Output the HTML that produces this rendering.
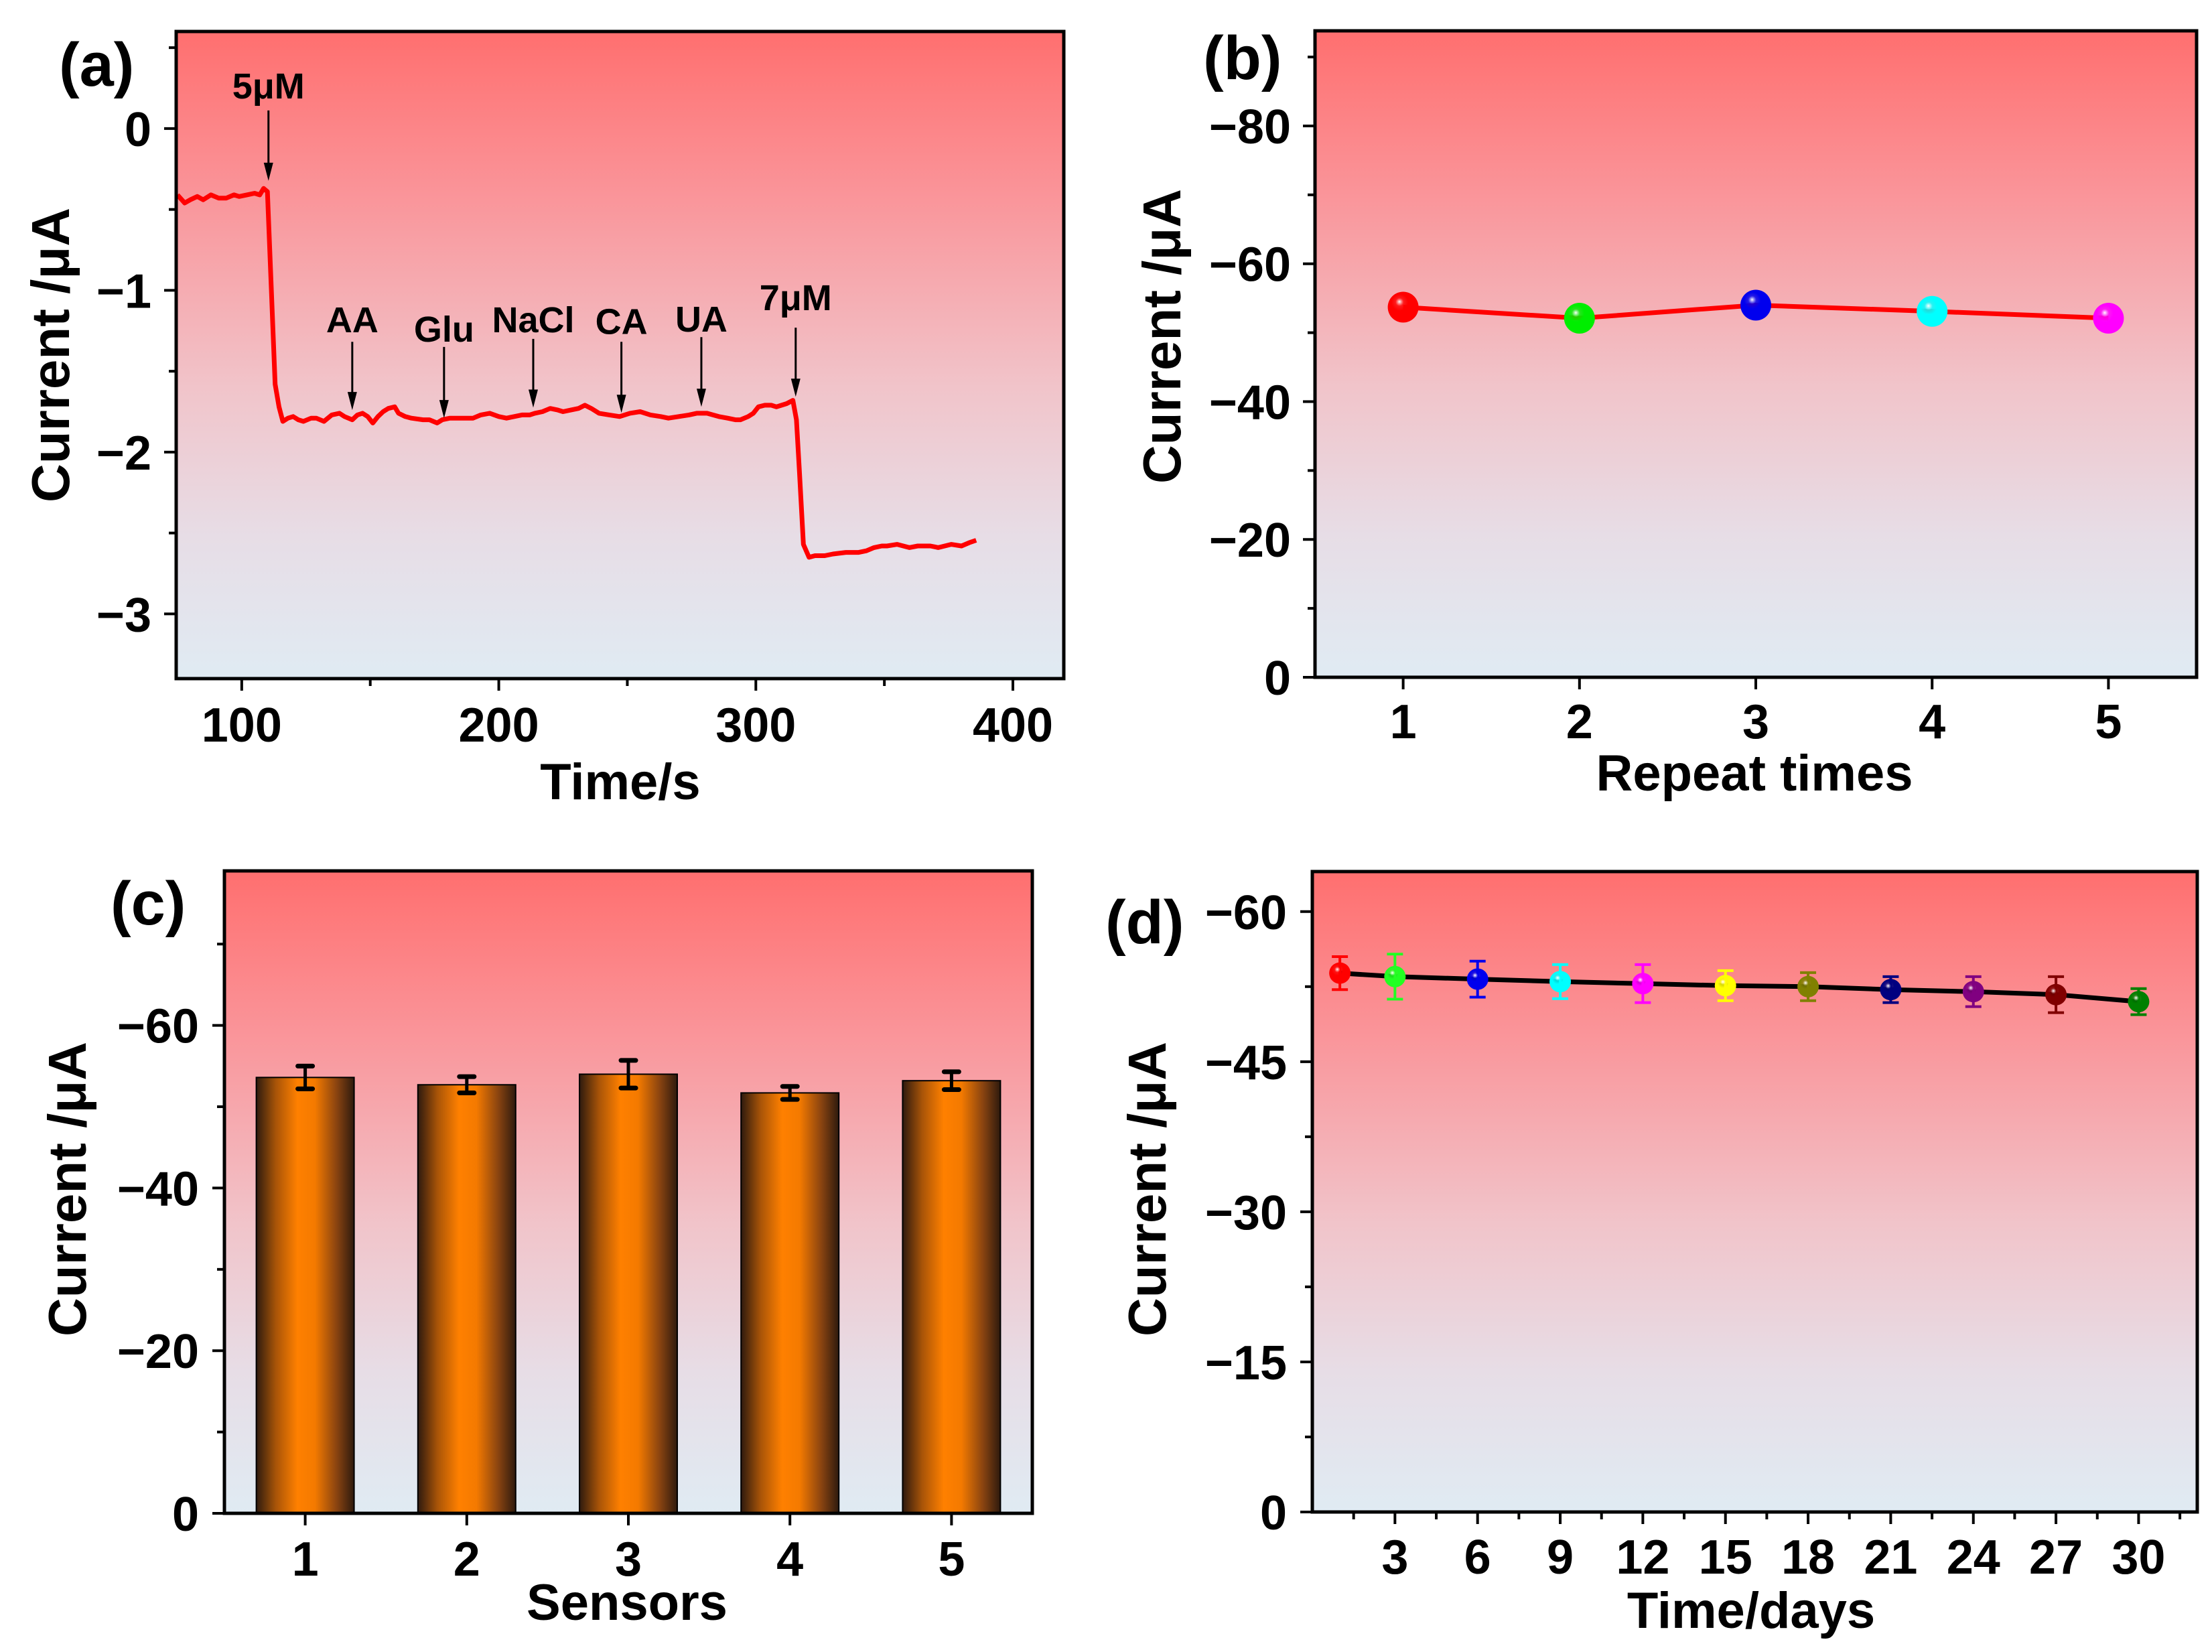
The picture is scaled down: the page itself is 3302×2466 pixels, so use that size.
<!DOCTYPE html>
<html><head><meta charset="utf-8"><style>
html,body{margin:0;padding:0;background:#fff}
svg{display:block}
text{font-family:"Liberation Sans",Arial,sans-serif;font-weight:bold;fill:#000}
</style></head><body>
<svg id="fig" xmlns="http://www.w3.org/2000/svg" width="3302" height="2466" viewBox="0 0 3302 2466">
<defs>
<linearGradient id="bg" x1="0" y1="0" x2="0" y2="1">
<stop offset="0" stop-color="#ff6f6f"/><stop offset="0.25" stop-color="#fa9499"/><stop offset="0.55" stop-color="#f1c4ca"/><stop offset="0.78" stop-color="#e7dde6"/><stop offset="1" stop-color="#e0ebf3"/>
</linearGradient>
<linearGradient id="barg" x1="0" y1="0" x2="1" y2="0">
<stop offset="0" stop-color="#2e1a0e"/><stop offset="0.2" stop-color="#a85408"/><stop offset="0.42" stop-color="#ff8000"/><stop offset="0.6" stop-color="#f47a00"/><stop offset="0.82" stop-color="#8a4410"/><stop offset="1" stop-color="#2e1a0e"/>
</linearGradient>
</defs>
</svg>
<script>
// ---------- data ----------
// (a) amperometric trace
const traceT = [75,77.8,80,82.7,85,88,91,94,97,99,102,105,107,108.5,110,111.5,113,114.5,116,118,120,122,124,127,129,132,135,138,140,143,145,147,149,151,153,155,157,159.5,161,163.6,166,170.5,173,176,178,181,185,190,193,196.5,200,203,206,209,212,214,217,220,223,225,228,231,233.5,236,239,243,247,251,255,259,263,266,270,274,277,281,285.6,289,292,294,297,299,301,303.5,306,308,310,312,314.4,315.8,317,318.5,320.7,323,326.8,330,335,340,343,346,349,351,355,359.7,363,367.9,371,376,380,383,385.7];
const traceI = [-0.41,-0.46,-0.44,-0.42,-0.44,-0.41,-0.43,-0.43,-0.41,-0.42,-0.41,-0.40,-0.41,-0.37,-0.39,-0.99,-1.58,-1.72,-1.81,-1.79,-1.78,-1.80,-1.81,-1.79,-1.79,-1.81,-1.77,-1.76,-1.78,-1.80,-1.77,-1.76,-1.78,-1.82,-1.78,-1.75,-1.73,-1.72,-1.76,-1.78,-1.79,-1.80,-1.80,-1.82,-1.80,-1.79,-1.79,-1.79,-1.77,-1.76,-1.78,-1.79,-1.78,-1.77,-1.77,-1.76,-1.75,-1.73,-1.74,-1.75,-1.74,-1.73,-1.71,-1.73,-1.76,-1.77,-1.78,-1.76,-1.75,-1.77,-1.78,-1.79,-1.78,-1.77,-1.76,-1.76,-1.78,-1.79,-1.80,-1.80,-1.78,-1.76,-1.72,-1.71,-1.71,-1.72,-1.71,-1.70,-1.68,-1.80,-2.13,-2.57,-2.65,-2.64,-2.64,-2.63,-2.62,-2.62,-2.61,-2.59,-2.58,-2.58,-2.57,-2.59,-2.58,-2.58,-2.59,-2.57,-2.58,-2.56,-2.545];
const annoLabels = ["5μM","AA","Glu","NaCl","CA","UA","7μM"];
const annoT = [110.4,143,178.7,213.4,247.7,278.8,315.5];
const annoLabelI = [0.186,-1.26,-1.318,-1.26,-1.27,-1.256,-1.123];
const annoStartI = [0.112,-1.318,-1.35,-1.30,-1.318,-1.289,-1.231];
const annoTipI = [-0.323,-1.74,-1.79,-1.725,-1.757,-1.72,-1.658];
const aXTicks = [100,200,300,400];
const aYTicks = [0,-1,-2,-3];
// (b) repeatability
const repeatX = [1,2,3,4,5];
const repeatI = [-53.7,-52.1,-54.0,-53.1,-52.1];
const repeatColors = ["#ff0000","#00ee00","#0000ee","#00ffff","#ff00ff"];
const bYTicks = [-80,-60,-40,-20,0];
// (c) sensors
const sensorX = [1,2,3,4,5];
const sensorI = [-53.6,-52.7,-54.0,-51.7,-53.2];
const sensorErr = [1.4,1.0,1.7,0.8,1.1];
const cYTicks = [-60,-40,-20,0];
// (d) stability
const dayX = [1,3,6,9,12,15,18,21,24,27,30];
const dayI = [-53.85,-53.5,-53.25,-53.0,-52.8,-52.6,-52.5,-52.2,-52.0,-51.7,-51.0];
const dayErr = [1.65,2.25,1.8,1.7,1.9,1.5,1.4,1.3,1.5,1.8,1.3];
const dayColors = ["#ff0000","#22ff22","#0000ee","#00ffff","#ff00ff","#ffff00","#808000","#000080","#800080","#800000","#008000"];
const dXTicks = [3,6,9,12,15,18,21,24,27,30];
const dYTicks = [-60,-45,-30,-15,0];

// ---------- helpers ----------
const NS = "http://www.w3.org/2000/svg";
const svg = document.getElementById("fig");
const defs = svg.querySelector("defs");
function mk(tag, attrs, parent){
  const e = document.createElementNS(NS, tag);
  for (const k in attrs) e.setAttribute(k, attrs[k]);
  (parent||svg).appendChild(e);
  return e;
}
function fmt(v){ return v<0 ? "\u2212"+Math.abs(v) : String(v); }
let gradN = 0;
function sphereGrad(color){
  const id = "sg"+(gradN++);
  const g = mk("radialGradient",{id:id,cx:"0.4",cy:"0.38",r:"0.6",fx:"0.38",fy:"0.32"},defs);
  mk("stop",{offset:"0","stop-color":"#ffffff"},g);
  mk("stop",{offset:"0.22","stop-color":color,"stop-opacity":"0.85"},g);
  mk("stop",{offset:"0.45","stop-color":color},g);
  mk("stop",{offset:"1","stop-color":color},g);
  return id;
}
function makePanel(p){
  const sx = v => p.x0 + (v - p.xmin)/(p.xmax - p.xmin)*(p.x1 - p.x0);
  const sy = v => p.y1 - (v - p.ybot)/(p.ytop - p.ybot)*(p.y1 - p.y0);
  const g = mk("g",{});
  
  
  const bg = mk("rect",{x:p.x0,y:p.y0,width:p.x1-p.x0,height:p.y1-p.y0,fill:"url(#bg)"},g);
  
  
  return {g, sx, sy, p};
}
function drawAxes(P, xticks, xminor, yticks, yminor, xfmt){
  const {g,sx,sy,p} = P;
  const ax = mk("g",{stroke:"#000","stroke-width":4},g);
  
  
  xticks.forEach(v=>{ mk("line",{x1:sx(v),x2:sx(v),y1:p.y1,y2:p.y1+18},ax); });
  xminor.forEach(v=>{ mk("line",{x1:sx(v),x2:sx(v),y1:p.y1,y2:p.y1+11},ax); });
  yticks.forEach(v=>{ mk("line",{x1:p.x0-18,x2:p.x0,y1:sy(v),y2:sy(v)},ax); });
  yminor.forEach(v=>{ mk("line",{x1:p.x0-11,x2:p.x0,y1:sy(v),y2:sy(v)},ax); });
  const fr = mk("rect",{x:p.x0,y:p.y0,width:p.x1-p.x0,height:p.y1-p.y0,fill:"none",stroke:"#000","stroke-width":5},g);
  
  
  const xl = mk("g",{"font-size":72,"text-anchor":"middle"},g);
  
  
  xticks.forEach(v=>{ const t=mk("text",{x:sx(v),y:p.xLabelY},xl); t.textContent = xfmt?xfmt(v):fmt(v); });
  const yl = mk("g",{"font-size":72,"text-anchor":"end"},g);
  
  
  yticks.forEach(v=>{ const t=mk("text",{x:p.yLabelX,y:sy(v)+26},yl); t.textContent = fmt(v); });
  const xt = mk("text",{x:p.xTitleX,y:p.xTitleY,"font-size":76,"text-anchor":"middle"},g);
  xt.textContent = p.xTitle;
  
  
  const yt = mk("text",{x:0,y:0,"font-size":80,"text-anchor":"middle",transform:`translate(${p.yTitleX},${p.yTitleY}) rotate(-90)`},g);
  yt.textContent = "Current /μA";
  
  
  const pl = mk("text",{x:p.lblX,y:p.lblY,"font-size":92},g);
  pl.textContent = p.lbl;
  
  
}
function range(a,b,s){ const r=[]; for(let v=a; v<=b+1e-9; v+=s) r.push(+v.toFixed(6)); return r; }

// ---------- panel (a) ----------
{
  const P = makePanel({name:"panel-a-amperometric",x0:263,x1:1588,y0:47,y1:1013,xmin:74.5,xmax:419.8,ybot:-3.4,ytop:0.6,
    xLabelY:1107,yLabelX:226,xTitle:"Time/s",xTitleX:926,xTitleY:1193,yTitleX:103,yTitleY:530,lbl:"(a)",lblX:88,lblY:128});
  const {g,sx,sy} = P;
  const d = traceT.map((t,i)=>(i?"L":"M")+sx(t).toFixed(1)+","+sy(traceI[i]).toFixed(1)).join(" ");
  const line = mk("path",{d:d,fill:"none",stroke:"#ff0000","stroke-width":7,"stroke-linejoin":"round"},g);
  
  
  annoLabels.forEach((lab,i)=>{
    const ag = mk("g",{},g);
    
    
    const x = sx(annoT[i]);
    const t = mk("text",{x:x,y:sy(annoLabelI[i]),"font-size":54,"text-anchor":"middle"},ag);
    t.textContent = lab;
    const tip = sy(annoTipI[i]);
    mk("line",{x1:x,x2:x,y1:sy(annoStartI[i]),y2:tip-20,stroke:"#000","stroke-width":3},ag);
    mk("path",{d:`M${x-7},${tip-27} L${x+7},${tip-27} L${x},${tip} Z`,fill:"#000"},ag);
  });
  drawAxes(P, aXTicks, [150,250,350], aYTicks, [0.5,-0.5,-1.5,-2.5]);
}

// ---------- panel (b) ----------
{
  const P = makePanel({name:"panel-b-repeatability",x0:1963,x1:3279,y0:46,y1:1011,xmin:0.5,xmax:5.5,ybot:0,ytop:-93.8,
    xLabelY:1102,yLabelX:1927,xTitle:"Repeat times",xTitleX:2619,xTitleY:1180,yTitleX:1762,yTitleY:502,lbl:"(b)",lblX:1796,lblY:118});
  const {g,sx,sy} = P;
  const d = repeatX.map((x,i)=>(i?"L":"M")+sx(x)+","+sy(repeatI[i])).join(" ");
  const line = mk("path",{d:d,fill:"none",stroke:"#ff0000","stroke-width":7},g);
  
  
  repeatX.forEach((x,i)=>{
    const c = mk("circle",{cx:sx(x),cy:sy(repeatI[i]),r:23,fill:"url(#"+sphereGrad(repeatColors[i])+")"},g);
    
    
  });
  drawAxes(P, repeatX, [], bYTicks, [-90,-70,-50,-30,-10]);
}

// ---------- panel (c) ----------
{
  const P = makePanel({name:"panel-c-sensors",x0:335,x1:1541,y0:1300,y1:2259,xmin:0.5,xmax:5.5,ybot:0,ytop:-79,
    xLabelY:2352,yLabelX:297,xTitle:"Sensors",xTitleX:936,xTitleY:2418,yTitleX:128,yTitleY:1775,lbl:"(c)",lblX:165,lblY:1380});
  const {g,sx,sy} = P;
  const bw = 146;
  sensorX.forEach((x,i)=>{
    const b = mk("rect",{x:sx(x)-bw/2,y:sy(sensorI[i]),width:bw,height:sy(0)-sy(sensorI[i]),fill:"url(#barg)",stroke:"#000","stroke-width":2},g);
    
    
    const eg = mk("g",{stroke:"#000","stroke-width":5,"stroke-linecap":"round"},g);
    
    
    const cx = sx(x), yt = sy(sensorI[i]-sensorErr[i]), yb = sy(sensorI[i]+sensorErr[i]);
    mk("line",{x1:cx,x2:cx,y1:yt,y2:yb},eg);
    mk("line",{x1:cx-11,x2:cx+11,y1:yt,y2:yt,"stroke-width":7},eg);
    mk("line",{x1:cx-11,x2:cx+11,y1:yb,y2:yb,"stroke-width":7},eg);
  });
  drawAxes(P, sensorX, [], cYTicks, [-70,-50,-30,-10]);
}

// ---------- panel (d) ----------
{
  const P = makePanel({name:"panel-d-stability",x0:1959,x1:3280,y0:1301,y1:2257,xmin:0,xmax:32.13,ybot:0,ytop:-64.0,
    xLabelY:2349,yLabelX:1921,xTitle:"Time/days",xTitleX:2614,xTitleY:2430,yTitleX:1740,yTitleY:1775,lbl:"(d)",lblX:1650,lblY:1408});
  const {g,sx,sy} = P;
  const d = dayX.map((x,i)=>(i?"L":"M")+sx(x).toFixed(1)+","+sy(dayI[i]).toFixed(1)).join(" ");
  const line = mk("path",{d:d,fill:"none",stroke:"#000","stroke-width":7},g);
  
  
  dayX.forEach((x,i)=>{
    const eg = mk("g",{stroke:dayColors[i],"stroke-width":4},g);
    
    
    const cx = sx(x), yt = sy(dayI[i]-dayErr[i]), yb = sy(dayI[i]+dayErr[i]);
    mk("line",{x1:cx,x2:cx,y1:yt,y2:yb},eg);
    mk("line",{x1:cx-12,x2:cx+12,y1:yt,y2:yt},eg);
    mk("line",{x1:cx-12,x2:cx+12,y1:yb,y2:yb},eg);
    const c = mk("circle",{cx:cx,cy:sy(dayI[i]),r:16,fill:"url(#"+sphereGrad(dayColors[i])+")"},g);
    
    
  });
  drawAxes(P, dXTicks, range(1.5,31.5,3), dYTicks, [-52.5,-37.5,-22.5,-7.5]);
}
</script>
</body></html>
